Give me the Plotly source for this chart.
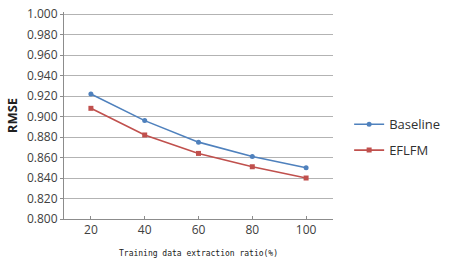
import plotly.graph_objects as go

x_ratio = [20, 40, 60, 80, 100]
baseline = [0.922, 0.896, 0.875, 0.861, 0.850]
eflfm = [0.908, 0.882, 0.864, 0.851, 0.840]
y_ticks = [0.80, 0.82, 0.84, 0.86, 0.88, 0.90, 0.92, 0.94, 0.96, 0.98, 1.00]

fig = go.Figure()
fig.add_trace(go.Scatter(x=x_ratio, y=baseline, name="Baseline", mode="lines+markers",
                         legendgroup="a",
                         line=dict(color="#4F81BD", width=1.6),
                         marker=dict(symbol="circle", size=5, color="#4F81BD")))
fig.add_trace(go.Scatter(x=x_ratio, y=eflfm, name="EFLFM", mode="lines+markers",
                         legendgroup="b",
                         line=dict(color="#C0504D", width=1.6),
                         marker=dict(symbol="square", size=5, color="#C0504D")))

fig.update_layout(
    width=450, height=268,
    margin=dict(l=64, r=104, t=5, b=49),
    paper_bgcolor="white", plot_bgcolor="white",
    font=dict(family="Open Sans, Liberation Sans, sans-serif", color="#404040"),
    showlegend=True,
    legend=dict(x=1.06, y=0.395, xanchor="left", yanchor="middle",
                font=dict(size=13, color="#303030"), tracegroupgap=6,
                traceorder="grouped",
                itemwidth=30, bgcolor="rgba(0,0,0,0)"),
    xaxis=dict(range=[10, 110], tickvals=x_ratio, ticktext=[str(v) for v in x_ratio],
               showgrid=False, zeroline=False, showline=True, linecolor="#8c8c8c", linewidth=1,
               ticks="inside", ticklen=3, tickcolor="#8c8c8c",
               tickfont=dict(size=12, color="#404040"),
               title=dict(text="Training data extraction ratio(%)",
                          font=dict(family="DejaVu Sans Mono, Liberation Mono, monospace", size=8, color="#202020"),
                          standoff=12)),
    yaxis=dict(range=[0.8, 1.002], tickvals=y_ticks, ticktext=["%.3f" % v for v in y_ticks],
               showgrid=True, gridcolor="#b3b3b3", gridwidth=1, zeroline=False,
               showline=True, linecolor="#8c8c8c", linewidth=1,
               ticks="outside", ticklen=3, tickcolor="#8c8c8c",
               ticklabeloverflow="allow",
               tickfont=dict(size=12, color="#404040"),
               title=dict(text="<b>RMSE</b>", font=dict(size=13, color="#202020"), standoff=6)),
)

fig.write_html("out.html")
